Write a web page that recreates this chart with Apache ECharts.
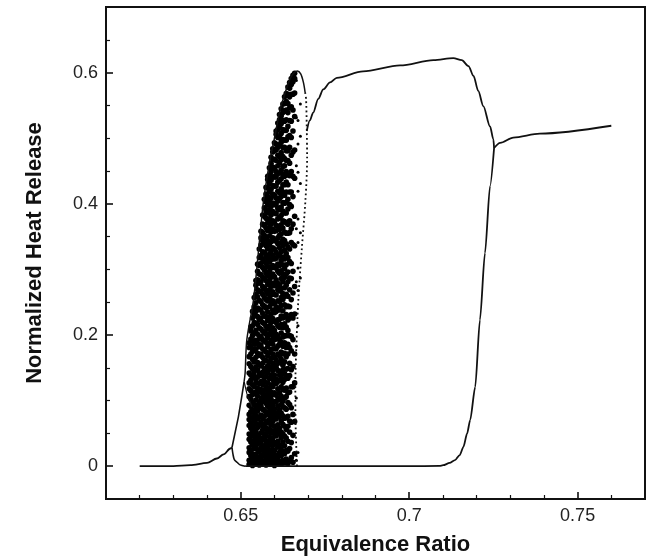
<!DOCTYPE html>
<html>
<head>
<meta charset="utf-8">
<script src="https://cdn.jsdelivr.net/npm/echarts@6/dist/echarts.min.js"></script>
<style>
  html, body { margin: 0; padding: 0; background: #fff; }
  #chart { width: 652px; height: 557px; }
</style>
</head>
<body>
<div id="chart"></div>
<script>
// Axis ticks
const xMajorTicks = [0.65, 0.7, 0.75];
const xMinorTicks = [0.62, 0.63, 0.64, 0.66, 0.67, 0.68, 0.69, 0.71, 0.72, 0.73, 0.74, 0.76];
const yMajorTicks = [0, 0.2, 0.4, 0.6];
const yMinorTicks = [0.05, 0.1, 0.15, 0.25, 0.3, 0.35, 0.45, 0.5, 0.55, 0.65];

// Stable branch, lean side, up to the fold
const lowLeftBranch = [[0.620, 0], [0.630, 0], [0.635, 0.0015], [0.640, 0.005], [0.6429, 0.0117],
  [0.6449, 0.018], [0.6469, 0.027], [0.6474, 0.0285]];
// From the fold up to the cusp
const cuspRise = [[0.6474, 0.0285], [0.6479, 0.0295], [0.6493, 0.0753], [0.6503, 0.106], [0.6510, 0.129]];
// Cusp into the chaotic band
const cuspDrop = [[0.6510, 0.129], [0.6518, 0.111], [0.6533, 0.0906]];
// Fold back down to the extinguished state
const foldReturn = [[0.6474, 0.0285], [0.6477, 0.018], [0.6481, 0.010], [0.6489, 0.006], [0.6498, 0.002], [0.6513, 0]];
// Extinguished branch and its rise to the rich-side branch
const zeroBranch = [[0.6513, 0], [0.700, 0], [0.7090, 0.0005], [0.7101, 0.0015], [0.7120, 0.005], [0.7136, 0.0092],
  [0.7150, 0.017], [0.7161, 0.0295], [0.7172, 0.050], [0.7181, 0.0703], [0.7196, 0.121], [0.7210, 0.223],
  [0.7225, 0.325], [0.7240, 0.427], [0.7252, 0.485]];
// Rich-side branch
const richBranch = [[0.7252, 0.485], [0.7270, 0.493], [0.7309, 0.501], [0.7388, 0.507], [0.7600, 0.519]];
// Upper oscillation amplitude branch
const upperBranch = [[0.6696, 0.511], [0.6705, 0.527], [0.6715, 0.539], [0.6730, 0.560], [0.6745, 0.5745],
  [0.6765, 0.585], [0.6785, 0.592], [0.6863, 0.602], [0.6973, 0.611], [0.7072, 0.619], [0.7131, 0.622],
  [0.7156, 0.619], [0.7176, 0.610], [0.7191, 0.595], [0.7205, 0.572], [0.7220, 0.549], [0.7240, 0.518],
  [0.7250, 0.498], [0.7252, 0.485]];
// Envelope of the chaotic band (lean edge and crest)
const bandEdge = [[0.6510, 0.129], [0.6513, 0.142], [0.6518, 0.1925], [0.6538, 0.254], [0.6553, 0.330],
  [0.6568, 0.406], [0.6587, 0.4675], [0.6600, 0.500], [0.6617, 0.544], [0.6630, 0.566], [0.6642, 0.585],
  [0.6655, 0.598], [0.6668, 0.6025], [0.6678, 0.598], [0.6686, 0.585], [0.6691, 0.570]];
// Unstable branch below the crest
const unstableBranch = [[0.6691, 0.570], [0.6694, 0.559], [0.6696, 0.513], [0.6697, 0.470], [0.6692, 0.405],
  [0.6681, 0.330], [0.6671, 0.254], [0.6665, 0.182], [0.6662, 0.120], [0.6663, 0.060], [0.6667, 0]];

// Chaotic band: sampled equivalence ratios and the heat release values visited at each
const bandPhi = [0.6525, 0.6530, 0.6535, 0.6540, 0.6545, 0.6550, 0.6555, 0.6560, 0.6565, 0.6570,
  0.6575, 0.6580, 0.6585, 0.6590, 0.6595, 0.6600, 0.6605, 0.6610, 0.6615, 0.6620,
  0.6625, 0.6630, 0.6635, 0.6640, 0.6645, 0.6650, 0.6655, 0.6660];
const bandHeat = [
  [.003,.009,.021,.028,.041,.049,.062,.071,.079,.093,.106,.118,.127,.142,.156,.167,.181,.188],
  [.005,.016,.024,.037,.045,.058,.066,.083,.091,.102,.115,.131,.139,.152,.171,.183,.194,.206,.212],
  [.001,.012,.019,.033,.052,.061,.074,.086,.097,.109,.124,.135,.148,.163,.175,.191,.199,.214,.226,.236],
  [.008,.014,.027,.039,.047,.056,.069,.081,.094,.112,.121,.137,.144,.159,.178,.186,.203,.219,.231,.243,.257],
  [.004,.018,.031,.042,.053,.065,.077,.088,.101,.113,.127,.133,.151,.166,.179,.192,.207,.218,.236,.249,.262,.276,.283],
  [.006,.013,.025,.035,.048,.059,.072,.084,.093,.107,.119,.136,.147,.158,.172,.187,.201,.216,.228,.241,.258,.269,.284,.297,.308],
  [.002,.011,.022,.038,.044,.063,.075,.089,.098,.114,.126,.141,.155,.169,.182,.194,.211,.223,.239,.253,.266,.279,.293,.306,.318,.331],
  [.009,.017,.029,.036,.051,.067,.078,.092,.104,.117,.129,.138,.153,.171,.185,.198,.209,.226,.238,.251,.267,.281,.292,.309,.321,.337,.348,.358],
  [.004,.015,.026,.043,.055,.061,.073,.087,.099,.111,.124,.143,.157,.166,.179,.193,.206,.219,.233,.246,.262,.274,.288,.303,.316,.327,.344,.356,.369,.383],
  [.007,.019,.031,.041,.049,.064,.076,.085,.103,.116,.129,.135,.149,.162,.177,.191,.204,.217,.229,.244,.257,.271,.286,.299,.312,.326,.339,.352,.367,.381,.394,.407],
  [.002,.012,.023,.034,.046,.058,.069,.082,.096,.108,.121,.137,.146,.161,.174,.189,.201,.213,.228,.241,.254,.268,.283,.294,.309,.322,.336,.348,.363,.378,.389,.403,.415,.425],
  [.005,.016,.028,.038,.052,.066,.079,.091,.101,.114,.127,.142,.153,.168,.182,.196,.209,.222,.235,.252,.263,.277,.291,.304,.317,.331,.344,.359,.371,.386,.398,.411,.424,.437,.442],
  [.009,.021,.033,.045,.057,.071,.084,.097,.106,.119,.134,.148,.159,.173,.187,.201,.214,.227,.243,.256,.269,.283,.297,.311,.323,.338,.351,.364,.377,.391,.405,.418,.431,.444,.455],
  [.003,.014,.025,.039,.051,.063,.076,.088,.102,.113,.124,.139,.151,.164,.178,.192,.206,.219,.232,.247,.261,.274,.288,.302,.315,.328,.342,.357,.369,.383,.396,.409,.422,.436,.449,.462,.471],
  [.006,.018,.031,.043,.054,.068,.081,.093,.109,.121,.132,.146,.157,.171,.186,.199,.211,.225,.238,.252,.266,.279,.293,.306,.321,.333,.348,.361,.374,.388,.401,.415,.428,.441,.456,.468,.479,.484],
  [.001,.011,.024,.036,.049,.061,.074,.087,.098,.112,.126,.139,.152,.166,.179,.193,.207,.221,.234,.248,.262,.275,.289,.303,.316,.331,.344,.358,.372,.386,.399,.413,.427,.441,.454,.468,.481,.493],
  [.008,.017,.034,.046,.055,.072,.081,.099,.108,.126,.133,.151,.162,.179,.194,.201,.219,.236,.243,.261,.276,.284,.302,.317,.326,.343,.359,.367,.385,.398,.409,.427,.441,.449,.466,.482,.491,.506,.511],
  [.004,.013,.029,.038,.054,.063,.079,.092,.101,.118,.129,.146,.157,.171,.183,.198,.214,.223,.241,.252,.269,.279,.297,.308,.322,.339,.348,.366,.377,.393,.404,.419,.433,.446,.458,.474,.486,.501,.513,.523],
  [.007,.021,.032,.049,.058,.075,.086,.103,.112,.131,.139,.158,.168,.186,.193,.212,.224,.238,.251,.267,.276,.294,.306,.321,.333,.352,.361,.379,.391,.408,.417,.435,.447,.463,.472,.490,.501,.517,.528,.536],
  [.003,.016,.026,.043,.052,.069,.081,.094,.107,.121,.136,.144,.163,.174,.189,.203,.216,.229,.245,.257,.271,.286,.298,.314,.327,.341,.354,.368,.382,.395,.411,.423,.438,.451,.467,.478,.494,.507,.522,.534,.545],
  [.009,.022,.037,.049,.064,.077,.091,.099,.117,.128,.147,.154,.171,.183,.197,.211,.226,.237,.254,.263,.281,.293,.307,.319,.336,.346,.363,.374,.389,.402,.418,.429,.445,.457,.472,.486,.498,.513,.527,.539,.552],
  [.005,.019,.031,.046,.061,.073,.089,.104,.116,.132,.141,.159,.172,.188,.199,.217,.228,.246,.259,.272,.288,.301,.316,.329,.344,.357,.373,.386,.401,.413,.429,.442,.458,.469,.486,.497,.512,.526,.541,.553,.563],
  [.011,.024,.043,.056,.074,.087,.106,.119,.138,.148,.167,.181,.199,.212,.231,.243,.262,.276,.293,.307,.324,.339,.355,.371,.386,.402,.418,.433,.449,.466,.481,.497,.512,.528,.543,.556,.568],
  [.004,.023,.038,.061,.076,.097,.112,.134,.149,.171,.186,.207,.223,.244,.259,.281,.296,.318,.334,.355,.369,.392,.407,.429,.444,.466,.481,.502,.518,.539,.553,.567,.578],
  [.008,.027,.052,.069,.094,.113,.138,.157,.181,.199,.226,.243,.269,.287,.312,.331,.356,.374,.399,.418,.443,.462,.486,.504,.527,.546,.563,.576,.585],
  [.013,.036,.067,.089,.121,.147,.176,.198,.231,.254,.286,.309,.341,.362,.396,.418,.449,.474,.501,.526,.548,.567,.582,.591],
  [.006,.047,.079,.121,.152,.193,.226,.264,.297,.338,.369,.411,.442,.479,.511,.543,.567,.586,.596],
  [.019,.068,.127,.171,.232,.274,.336,.381,.439,.482,.533,.569,.591,.599]
];
// Sparse excursions on the rich edge of the band
const driftPhi = [0.6665, 0.6670, 0.6677];
const driftHeat = [
  [.009,.104,.183,.281,.362,.458,.531,.588],
  [.021,.214,.268,.302,.341,.377,.419,.448,.491,.527],
  [.287,.356,.431,.503,.552]
];

function toPoints(phis, heats) {
  const pts = [];
  phis.forEach((phi, i) => heats[i].forEach(h => pts.push([phi, h])));
  return pts;
}

const INK = '#111';
const FONT = 'Liberation Sans, Arial, sans-serif';

function curve(data, width, extra) {
  return Object.assign({
    type: 'line', data: data, showSymbol: false, symbol: 'none', silent: true,
    xAxisIndex: 0, yAxisIndex: 0,
    lineStyle: { color: INK, width: width }, z: 3
  }, extra || {});
}

const noLine = { show: false, onZero: false };

const chart = echarts.init(document.getElementById('chart'), null, { renderer: 'canvas' });
chart.setOption({
  animation: false,
  backgroundColor: '#fff',
  grid: { left: 106, top: 7, width: 539, height: 492, containLabel: false, outerBoundsMode: 'none',
    show: true, borderColor: INK, borderWidth: 2, backgroundColor: 'transparent' },
  xAxis: [
    {
      type: 'value', min: 0.61, max: 0.77, position: 'bottom',
      name: 'Equivalence Ratio', nameLocation: 'middle', nameGap: 35,
      nameTextStyle: { fontFamily: FONT, fontSize: 22, fontWeight: 'bold', color: INK },
      axisLine: noLine, splitLine: { show: false },
      axisTick: { show: true, inside: true, length: 7, lineStyle: { color: INK, width: 1.6 }, customValues: xMajorTicks },
      axisLabel: { show: true, margin: 8, fontFamily: FONT, fontSize: 18, color: '#222', customValues: xMajorTicks,
        formatter: v => String(v) }
    },
    {
      type: 'value', min: 0.61, max: 0.77, position: 'bottom',
      axisLine: noLine, splitLine: { show: false }, axisLabel: { show: false },
      axisTick: { show: true, inside: true, length: 4, lineStyle: { color: INK, width: 1.2 }, customValues: xMinorTicks }
    }
  ],
  yAxis: [
    {
      type: 'value', min: -0.05, max: 0.7, position: 'left',
      name: 'Normalized Heat Release', nameLocation: 'middle', nameGap: 60,
      nameTextStyle: { fontFamily: FONT, fontSize: 22, fontWeight: 'bold', color: INK },
      axisLine: noLine, splitLine: { show: false },
      axisTick: { show: true, inside: true, length: 7, lineStyle: { color: INK, width: 1.6 }, customValues: yMajorTicks },
      axisLabel: { show: true, margin: 8, fontFamily: FONT, fontSize: 18, color: '#222', customValues: yMajorTicks,
        formatter: v => String(v) }
    },
    {
      type: 'value', min: -0.05, max: 0.7, position: 'left',
      axisLine: noLine, splitLine: { show: false }, axisLabel: { show: false },
      axisTick: { show: true, inside: true, length: 4, lineStyle: { color: INK, width: 1.2 }, customValues: yMinorTicks }
    }
  ],
  series: [
    {
      type: 'scatter', data: toPoints(bandPhi, bandHeat), xAxisIndex: 0, yAxisIndex: 0, silent: true,
      symbol: 'circle', symbolSize: 5.6, itemStyle: { color: '#000', opacity: 1 }, z: 2
    },
    {
      type: 'scatter', data: toPoints(driftPhi, driftHeat), xAxisIndex: 0, yAxisIndex: 0, silent: true,
      symbol: 'circle', symbolSize: 3, itemStyle: { color: '#000', opacity: 1 }, z: 2
    },
    curve(lowLeftBranch, 1.8, { smooth: 0.3, smoothMonotone: 'x' }),
    curve(cuspRise, 1.6),
    curve(cuspDrop, 1.2),
    curve(foldReturn, 1.6, { smooth: 0.3 }),
    curve(zeroBranch, 1.8, { smooth: 0.25, smoothMonotone: 'x' }),
    curve(richBranch, 1.8, { smooth: 0.3, smoothMonotone: 'x' }),
    curve(upperBranch, 1.8, { smooth: 0.3, smoothMonotone: 'x' }),
    curve(bandEdge, 1.5, { smooth: 0.3 }),
    curve(unstableBranch, 1.8, { smooth: 0.3, lineStyle: { color: INK, width: 1.8, type: [1.8, 2.8] } })
  ]
});
</script>
</body>
</html>
